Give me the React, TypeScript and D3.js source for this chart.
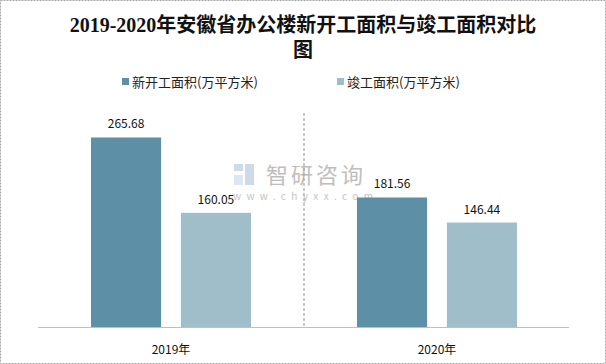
import React from "react";
import * as d3 from "d3";

const categories = ["2019年", "2020年"];
const seriesNames = ["新开工面积(万平方米)", "竣工面积(万平方米)"];
const newStarts = [265.68, 181.56];
const completed = [160.05, 146.44];
const colors = ["#5d90a6", "#a0bdca"];
const titleLines = ["2019-2020年安徽省办公楼新开工面积与竣工面积对比", "图"];

export default function App() {
  const W = 606, H = 364;
  const x0 = d3.scaleBand<string>().domain(categories).range([38, 570]).paddingInner(0).paddingOuter(0);
  const x1 = d3.scaleBand<string>().domain(seriesNames).range([53, 213]).paddingInner(0.22).paddingOuter(0);
  const y = d3.scaleLinear().domain([0, 300]).range([327, 113]);
  const series = [newStarts, completed];
  const sans = "'Noto Sans CJK SC', 'Liberation Sans', sans-serif";
  return (
    <div style={{ position: "absolute", left: 0, top: 0 }}>
      <svg width={W} height={H} style={{ display: "block" }}>
        <rect x={0.5} y={0.5} width={W - 1} height={H - 1} fill="#fff" stroke="#a6a6a6" strokeDasharray="2,1" />
        {titleLines.map((t, i) => (
          <text key={i} x={303} y={32 + i * 25} textAnchor="middle" fontFamily="'Liberation Serif', 'Noto Sans CJK SC', serif" fontWeight="bold" fontSize={20} fill="#111">{t}</text>
        ))}
        {seriesNames.map((s, i) => {
          const lx = [122, 337][i];
          return (
            <g key={s}>
              <rect x={lx} y={78} width={7} height={7} fill={colors[i]} />
              <text x={lx + 10} y={86.5} fontFamily={sans} fontSize={13} fill="#222">{s}</text>
            </g>
          );
        })}
        {/* watermark */}
        <g opacity={0.9}>
          <rect x={234} y={164} width={9} height={7} fill="#c9d6e8" />
          <rect x={245} y={164} width={9} height={21} fill="#c9d6e8" />
          <rect x={234} y={175} width={9} height={10} fill="#dbe4f0" />
          <text x={266} y={183} fontFamily={sans} fontSize={22} fill="#b8b8b8" letterSpacing={3}>智研咨询</text>
          <text x={233} y={199.5} fontFamily={sans} fontSize={10} fill="#bdbdbd" letterSpacing={5.4}>www.chyxx.com</text>
        </g>
        <line x1={x0("2020年")!} x2={x0("2020年")!} y1={113} y2={327} stroke="#a6a6a6" strokeWidth={1.2} strokeDasharray="3,2" />
        {categories.map((c, ci) => (
          <g key={c}>
            {seriesNames.map((s, si) => {
              const v = series[si][ci];
              const bx = x0(c)! + x1(s)!;
              const bw = x1.bandwidth();
              return (
                <g key={s}>
                  <rect x={bx} y={y(v)} width={bw} height={y(0) - y(v)} fill={colors[si]} />
                  <text x={bx + bw / 2} y={y(v) - 9} textAnchor="middle" fontFamily={sans} fontSize={12} fill="#111">{v.toFixed(2)}</text>
                </g>
              );
            })}
            <text x={x0(c)! + x0.bandwidth() / 2} y={354} textAnchor="middle" fontFamily={sans} fontSize={12} fill="#111">{c}</text>
          </g>
        ))}
        <line x1={38} x2={569} y1={327.5} y2={327.5} stroke="#bfbfbf" strokeWidth={1} />
      </svg>
    </div>
  );
}
